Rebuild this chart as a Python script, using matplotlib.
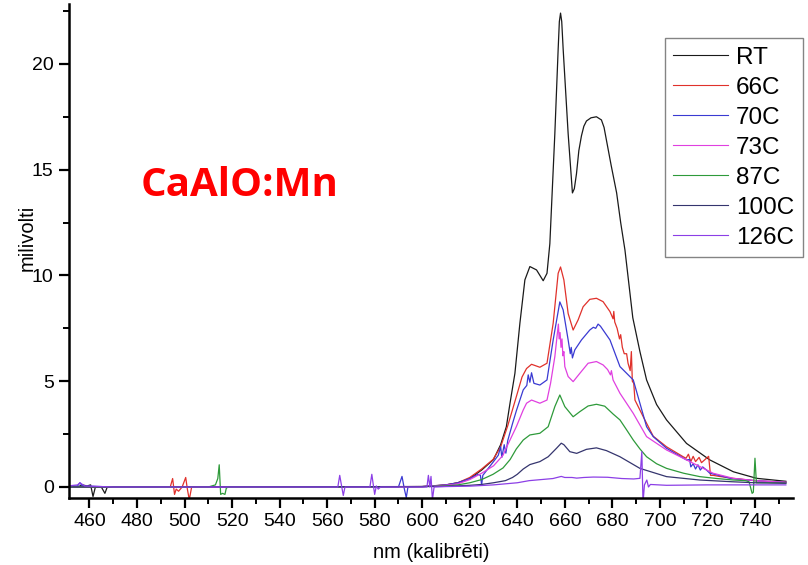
import matplotlib
matplotlib.use("Agg")
import matplotlib.pyplot as plt
from matplotlib.ticker import MultipleLocator

# ---------------- data ----------------
labels = ["RT", "66C", "70C", "73C", "87C", "100C", "126C"]
colors = ["#1a1a1a", "#e0312b", "#3a3ad2", "#e040e0", "#2e9a3a", "#35356e", "#8c3fe6"]

rt_x = [451, 455, 457, 459, 460.5, 461.5, 462.5, 465, 466.5, 467.5, 470, 500, 550, 600, 605, 610,
        615, 620, 625, 630, 633, 635.4, 637, 639, 641.1, 643.2, 645.3, 648.1, 650.9, 652.5,
        653.7, 655.8, 657.2, 657.7, 658.2, 658.7, 659.3, 661.4, 663.2, 664, 664.9, 665.9, 667,
        668, 669.1, 671, 673.3, 675.4, 676.5, 677.5, 679.5, 681.8, 683.5, 685.3, 688.6, 691.6,
        694.4, 698.6, 702.8, 711.2, 721, 730.9, 740.7, 753]
rt_y = [0.05, 0.0, 0.1, 0.05, 0.1, -0.45, 0.0, 0.0, -0.3, 0.0, 0.0, 0.0, 0.0, 0.02, 0.05, 0.1,
        0.2, 0.4, 0.8, 1.3, 2.0, 2.85, 4.0, 5.37, 7.74, 9.79, 10.42, 10.26, 9.75, 10.1,
        11.5, 16.7, 20.7, 22.0, 22.4, 22.0, 20.7, 16.7, 13.9, 14.1, 14.8, 15.9, 16.6,
        17.05, 17.3, 17.45, 17.5, 17.35, 17.0, 16.4, 15.2, 13.9, 12.5, 11.2, 8.0, 6.4,
        5.06, 3.9, 3.17, 2.06, 1.28, 0.72, 0.41, 0.27]

c66_x = [451, 494, 495, 495.8, 496.5, 497.5, 499, 500.5, 501.2, 502, 503, 510, 600, 610, 615,
         620, 625, 629.8, 633, 636, 639.6, 642, 643.9, 646, 649.5, 652.5, 655.1, 657.2, 658.2,
         659.6, 661.4, 663.5, 665.6, 667.7, 670.5, 673.3, 676.1, 679, 680.3, 680.6, 681, 682,
         683, 683.5, 684.2, 685, 686, 686.6, 687.5, 688, 688.4, 689, 689.5, 693, 697.2, 702.8,
         709.8, 711, 712, 713, 714, 715, 716.5, 717.5, 719, 720.5, 721.3, 722.5, 725, 730, 740,
         753]
c66_y = [0.0, 0.0, 0.4, -0.35, -0.1, -0.2, 0.0, 0.45, -0.1, -0.6, 0.0, 0.0, 0.02, 0.1, 0.2,
         0.45, 0.85, 1.3, 1.9, 2.9, 4.27, 5.2, 5.6, 5.8, 5.66, 5.85, 7.74, 10.1, 10.4,
         9.79, 8.2, 7.42, 7.9, 8.52, 8.87, 8.92, 8.76, 8.29, 7.95, 8.3, 7.8, 7.5,
         7.0, 7.2, 6.6, 6.3, 6.3, 5.85, 5.5, 6.4, 5.0, 4.9, 4.11, 3.32, 2.4, 1.9,
         1.43, 1.36, 1.55, 1.2, 1.45, 1.2, 1.4, 1.15, 1.3, 1.45, 0.55, 0.55, 0.5, 0.42, 0.3,
         0.22]

c70_x = [451, 455, 456, 457, 470, 590, 591.5, 592.5, 593.3, 594, 600, 610, 615, 620, 623.5,
         624.5, 625, 625.5, 630, 632, 633, 633.5, 634.5, 635.2, 636, 638, 639.6, 642.5, 644,
         644.6, 645.3, 646, 647, 649.5, 652.5, 655.1, 657.9, 659.3, 661.4, 662.3, 662.7, 663.2,
         664.2, 667, 670.5, 672, 673, 674, 675, 676.1, 679, 683.2, 688.8, 694.4, 697.2, 702.8,
         711.2, 712.5, 713, 714, 715, 716, 717, 718, 719.6, 721, 723, 730, 740, 753]
c70_y = [0.05, 0.05, 0.2, 0.05, 0.0, 0.0, 0.5, -0.1, -0.5, 0.0, 0.02, 0.1, 0.2, 0.4, 0.6,
         0.55, 0.1, 0.55, 1.2, 1.5, 1.9, 1.4, 2.0, 1.6, 2.2, 3.0, 3.6, 4.59, 4.8,
         5.3, 4.95, 5.4, 4.9, 4.82, 5.06, 6.95, 8.75, 8.37, 6.95, 6.3, 6.6, 6.1,
         6.48, 6.95, 7.42, 7.55, 7.5, 7.7, 7.6, 7.42, 6.95, 5.69, 5.06, 2.85, 2.38, 1.83,
         1.28, 1.3, 0.95, 1.1, 0.85, 1.05, 0.8, 0.95, 0.8, 0.65, 0.6, 0.4, 0.3, 0.22]

c73_x = [451, 600, 610, 615, 620, 625, 630, 634, 636, 639.6, 642.5, 643.9, 646, 649.5, 652.5,
         654, 655.8, 656.8, 657.3, 657.6, 658, 658.4, 658.8, 659.2, 659.6, 660, 661.4, 663.5,
         666.3, 669.8, 673.3, 676.1, 678, 679.2, 679.6, 680.3, 683.2, 688.8, 694.4, 702.8,
         711.2, 722.4, 730.9, 740, 753]
c73_y = [0.0, 0.02, 0.08, 0.15, 0.35, 0.65, 1.0, 1.5, 2.0, 2.85, 3.64, 3.96, 4.11, 3.96, 4.11,
         4.9, 6.16, 7.2, 7.7, 7.0, 7.3, 6.6, 7.0, 6.2, 6.4, 5.69, 5.22, 4.98,
         5.37, 5.85, 5.93, 5.77, 5.55, 5.3, 5.5, 5.06, 4.43, 3.48, 2.38, 1.75,
         1.28, 0.65, 0.41, 0.3, 0.22]

c87_x = [451, 510, 513, 514, 514.6, 515.2, 516, 517, 517.6, 518.5, 600, 610, 615, 620, 625,
         629.8, 634, 637, 639.6, 642.5, 645.3, 649.5, 653, 655.8, 657.9, 660, 663.5, 666.3,
         669.8, 673.3, 676.8, 680.3, 683.2, 686, 688.8, 691.6, 694.4, 698.6, 702.8, 710,
         716.8, 724, 731, 736, 737.5, 738.8, 739.3, 740, 740.6, 745, 753]
c87_y = [0.0, 0.0, 0.1, 0.4, 1.05, -0.35, -0.3, -0.35, -0.05, 0.0, 0.02, 0.05, 0.1, 0.2, 0.35,
         0.6, 0.9, 1.3, 1.8, 2.22, 2.46, 2.54, 2.85, 3.8, 4.35, 3.8, 3.32, 3.56,
         3.83, 3.91, 3.82, 3.45, 3.17, 2.7, 2.22, 1.8, 1.43, 1.1, 0.88, 0.65,
         0.49, 0.4, 0.33, 0.3, 0.25, -0.3, -0.25, 1.36, 0.2, 0.2, 0.18]

c100_x = [451, 600, 610, 620, 625, 630, 635, 638, 640, 642.5, 645.3, 649.5, 653, 656.5, 658.5,
          659.6, 662.1, 665, 669.1, 673.3, 677.5, 683.2, 691.6, 702.8, 716.8, 730, 740, 753]
c100_y = [0.0, 0.02, 0.03, 0.08, 0.12, 0.2, 0.3, 0.45, 0.6, 0.85, 1.06, 1.2, 1.43, 1.83, 2.07,
          2.0, 1.67, 1.59, 1.78, 1.85, 1.72, 1.43, 0.88, 0.49, 0.33, 0.25, 0.2, 0.18]

c126_x = [451, 455, 456, 458, 470, 564.5, 565.3, 566, 566.8, 567.5, 578, 578.8, 579.3, 580,
          580.7, 581.5, 582.5, 602, 602.6, 603.2, 603.7, 604.3, 605, 610, 620, 630, 640, 645,
          650, 655, 658.5, 660, 663, 665, 668, 672, 678, 684, 689, 691.6, 692.4, 692.9, 693.5,
          694.5, 695.2, 696, 702.8, 720, 753]
c126_y = [0.05, 0.1, 0.2, 0.05, 0.0, 0.0, 0.55, 0.1, -0.4, 0.0, 0.0, 0.6, 0.2, -0.35,
          0.05, -0.1, 0.0, 0.0, 0.55, 0.0, 0.5, -0.6, 0.0, 0.02, 0.04, 0.1, 0.2, 0.3,
          0.35, 0.4, 0.5, 0.45, 0.45, 0.42, 0.45, 0.47, 0.46, 0.4, 0.38, 0.41, 1.67, -0.75, 0.1,
          0.33, 0.0, 0.12, 0.08, 0.1, 0.1]

series_x = [rt_x, c66_x, c70_x, c73_x, c87_x, c100_x, c126_x]
series_y = [rt_y, c66_y, c70_y, c73_y, c87_y, c100_y, c126_y]

x_ticks = list(range(460, 741, 20))
y_ticks = [0, 5, 10, 15, 20]

# ---------------- figure ----------------
plt.rcParams['font.family'] = ['Liberation Sans', 'DejaVu Sans']
fig = plt.figure(figsize=(8.08, 5.65), dpi=100)
ax_left, ax_right, ax_bottom, ax_top = 69 / 808, 793 / 808, 1 - 498 / 565, 1 - 4 / 565
ax = fig.add_axes([ax_left, ax_bottom, ax_right - ax_left, ax_top - ax_bottom])

for xs, ys, lab, col in zip(series_x, series_y, labels, colors):
    ax.plot(xs, ys, color=col, lw=0.9, label=lab)

ax.set_xlim(451.4, 756)
ax.set_ylim(-0.52, 22.83)
ax.set_xticks(x_ticks)
ax.set_yticks(y_ticks)
ax.xaxis.set_minor_locator(MultipleLocator(10))
ax.yaxis.set_minor_locator(MultipleLocator(2.5))
ax.tick_params(which='major', direction='out', length=7, width=1.6, labelsize=14, pad=4)
ax.tick_params(which='minor', direction='out', length=4.5, width=1.4)
for s in ['top', 'right']:
    ax.spines[s].set_visible(False)
for s in ['left', 'bottom']:
    ax.spines[s].set_linewidth(1.8)

ax.set_xlabel("nm (kalibrēti)", fontsize=14.5, labelpad=9)
ax.set_ylabel("milivolti", fontsize=14.5)
ax.yaxis.set_label_coords((37 - 69) / 724, (498 - 238) / 494)

leg = ax.legend(loc='upper right', bbox_to_anchor=(803 / 808, 1 - 38 / 565),
                bbox_transform=fig.transFigure, borderaxespad=0, fontsize=17.5,
                frameon=True, fancybox=False, handlelength=2.25, handletextpad=0.35,
                borderpad=0.35, labelspacing=0.33)
leg.get_frame().set_edgecolor('#666666')
leg.get_frame().set_linewidth(1.0)
for ln in leg.get_lines():
    ln.set_linewidth(0.8)

fig.text(141 / 808, 1 - 186 / 565, "CaAlO:Mn", color='#ff0000', fontsize=29,
         fontweight='bold', family='Open Sans', ha='left', va='center')

fig.savefig("out.png", dpi=100)
